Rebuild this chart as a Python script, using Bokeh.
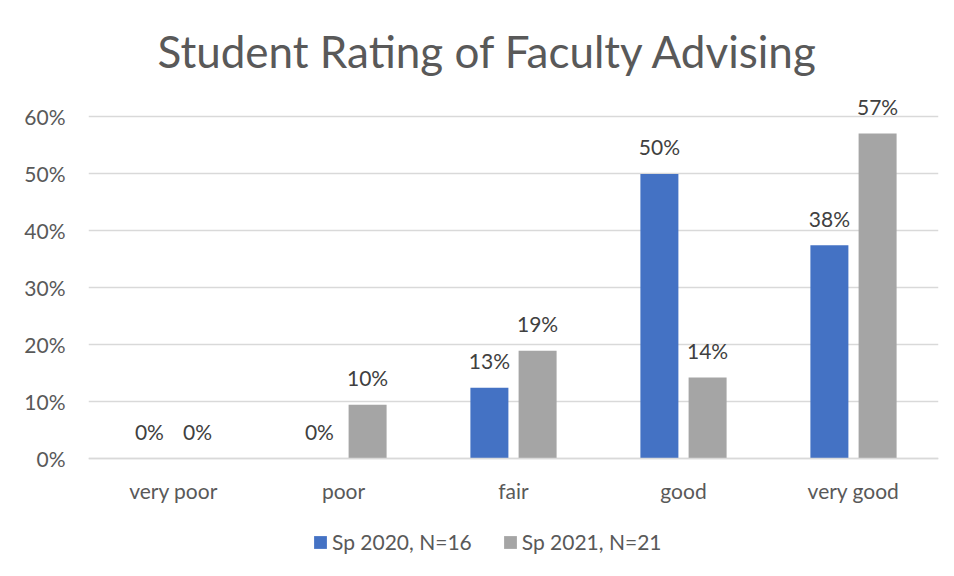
from bokeh.plotting import figure
from bokeh.models import ColumnDataSource, FactorRange, Range1d, FixedTicker, Legend, LegendItem, NumeralTickFormatter
from bokeh.transform import dodge
from bokeh.core.properties import value
from bokeh.embed import file_html
from bokeh.resources import INLINE

categories = ["very poor", "poor", "fair", "good", "very good"]
sp2020 = [0.0, 0.0, 0.125, 0.50, 0.375]
sp2021 = [0.0, 0.095, 0.19, 0.143, 0.571]
series_names = ["Sp 2020, N=16", "Sp 2021, N=21"]
y_ticks = [0.0, 0.1, 0.2, 0.3, 0.4, 0.5, 0.6]

def pct(v):
    return "%d%%" % int(v * 100 + 0.5)

src = ColumnDataSource(dict(
    cat=categories,
    a=sp2020, b=sp2021,
    la=[pct(v) for v in sp2020],
    lb=[pct(v) for v in sp2021],
))

FONT = "Lato"
BLUE = "#4472C4"
GRAY = "#A5A5A5"

# the frame extends below the 0% baseline so that the category labels and the
# legend sit inside it; the x axis is pinned to y = 0
p = figure(x_range=FactorRange(*categories), y_range=Range1d(-0.18, 0.65),
           frame_width=850, frame_height=473, output_backend="svg", toolbar_location=None,
           min_border_left=88, min_border_right=14, min_border_top=88, min_border_bottom=0)
p.outline_line_color = None
p.background_fill_color = "white"
p.border_fill_color = "white"

p.title.text = "Student Rating of Faculty Advising"
p.title.align = "left"
p.title.offset = 69
p.title.text_font = FONT
p.title.text_font_size = "44px"
p.title.text_font_style = "normal"
p.title.text_color = "#595959"
p.title.standoff = 23

w = 0.2235
off = 0.1418
ra = p.vbar(x=dodge("cat", -off, range=p.x_range), top="a", width=w, source=src,
            fill_color=BLUE, line_color=None)
rb = p.vbar(x=dodge("cat", off, range=p.x_range), top="b", width=w, source=src,
            fill_color=GRAY, line_color=None)

for col, lab, o in (("a", "la", -off), ("b", "lb", off)):
    p.text(x=dodge("cat", o, range=p.x_range), y=col, text=lab, source=src,
           text_align="center", text_baseline="alphabetic", y_offset=-27,
           text_font=value(FONT), text_font_size="21px", text_color="#404040")

p.yaxis.ticker = FixedTicker(ticks=y_ticks)
p.yaxis.formatter = NumeralTickFormatter(format="0%")
p.yaxis.axis_line_color = None
p.yaxis.major_tick_line_color = None
p.yaxis.minor_tick_line_color = None
p.yaxis.major_label_standoff = 17
p.yaxis.major_label_text_font = FONT
p.yaxis.major_label_text_font_size = "21px"
p.yaxis.major_label_text_color = "#595959"

p.xaxis.fixed_location = 0
p.xaxis.axis_line_color = "#D9D9D9"
p.xaxis.axis_line_width = 1.5
p.xaxis.major_tick_line_color = None
p.xaxis.minor_tick_line_color = None
p.xaxis.major_label_standoff = 13
p.xaxis.major_label_text_font = FONT
p.xaxis.major_label_text_font_size = "21px"
p.xaxis.major_label_text_color = "#595959"

p.xgrid.grid_line_color = None
p.ygrid.grid_line_color = "#D9D9D9"
p.ygrid.grid_line_width = 1.5

legend = Legend(items=[LegendItem(label=series_names[0], renderers=[ra]),
                       LegendItem(label=series_names[1], renderers=[rb])],
                orientation="horizontal", location=(224, 7),
                label_text_font=FONT, label_text_font_size="21px", label_text_color="#595959",
                glyph_width=16, glyph_height=16, label_standoff=4, spacing=30,
                padding=6, margin=0, border_line_color=None, background_fill_alpha=0)
p.add_layout(legend, "center")

open("out.html", "w").write(file_html(p, INLINE))
